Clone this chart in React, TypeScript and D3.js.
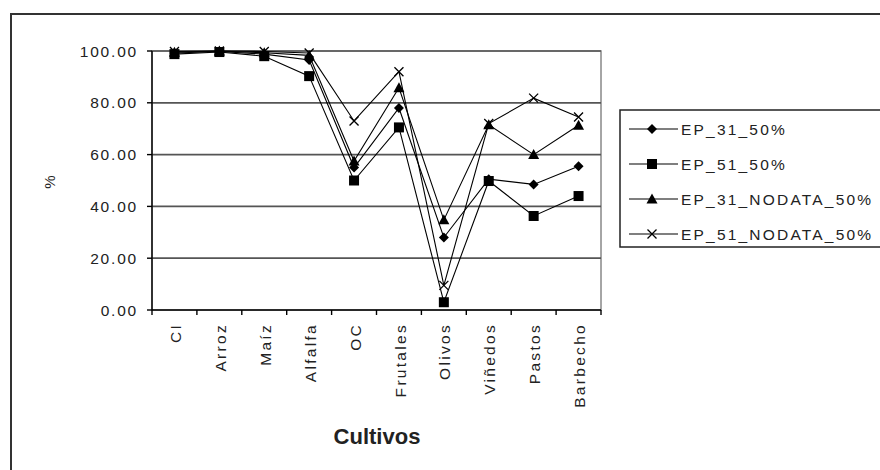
import React from 'react';
import * as d3 from 'd3';

const categories = ['CI', 'Arroz', 'Maíz', 'Alfalfa', 'OC', 'Frutales', 'Olivos', 'Viñedos', 'Pastos', 'Barbecho'];
const ep31 = [99.2, 99.8, 98.8, 96.5, 55, 78, 28, 50.5, 48.5, 55.5];
const ep51 = [98.8, 99.6, 98, 90.3, 50, 70.5, 3, 49.8, 36.3, 44];
const ep31NoData = [99.5, 100, 99.3, 98.3, 57.5, 85.8, 34.8, 71.5, 60, 71.3];
const ep51NoData = [99.8, 100, 99.8, 99.2, 73, 92, 9.5, 72, 81.8, 74.5];
const yTicks = [0, 20, 40, 60, 80, 100];

const series = [
  { name: 'EP_31_50%', values: ep31, marker: 'diamond' },
  { name: 'EP_51_50%', values: ep51, marker: 'square' },
  { name: 'EP_31_NODATA_50%', values: ep31NoData, marker: 'triangle' },
  { name: 'EP_51_NODATA_50%', values: ep51NoData, marker: 'x' },
];

const FONT = 'Arial, "Liberation Sans", sans-serif';

const Marker: React.FC<{ type: string; x: number; y: number }> = ({ type, x, y }) => {
  if (type === 'diamond') {
    const r = 5;
    return <path d={`M${x},${y - r}L${x + r},${y}L${x},${y + r}L${x - r},${y}Z`} fill="#000" />;
  }
  if (type === 'square') {
    const r = 5;
    return <rect x={x - r} y={y - r} width={r * 2} height={r * 2} fill="#000" />;
  }
  if (type === 'triangle') {
    const r = 5.5;
    return <path d={`M${x},${y - r}L${x + r},${y + r * 0.8}L${x - r},${y + r * 0.8}Z`} fill="#000" />;
  }
  const r = 4.5;
  return <path d={`M${x - r},${y - r}L${x + r},${y + r}M${x + r},${y - r}L${x - r},${y + r}`} stroke="#000" strokeWidth={1.3} />;
};

const App: React.FC = () => {
  const left = 152;
  const right = 601;
  const top = 51;
  const bottom = 310;

  const x = d3.scaleBand<string>().domain(categories).range([left, right]);
  const y = d3.scaleLinear().domain([0, 100]).range([bottom, top]);
  const cx = (c: string) => (x(c) ?? 0) + x.bandwidth() / 2;

  const line = d3
    .line<number>()
    .x((_d, i) => cx(categories[i]))
    .y(d => y(d));

  const boundaries = categories.map(c => x(c) ?? 0).concat([right]);

  return (
    <svg width={880} height={470} style={{ position: 'absolute', left: 0, top: 0, background: '#fff' }} fontFamily={FONT}>
      <rect x={0} y={0} width={880} height={470} fill="#fff" />
      <rect x={11} y={14} width={900} height={500} fill="none" stroke="#333" strokeWidth={2} />

      {/* plot frame + grid */}
      <rect x={left} y={top} width={right - left} height={bottom - top} fill="#fff" stroke="#888" strokeWidth={1.5} />
      {yTicks.filter(t => t > 0).map(t => (
        <line key={t} x1={left} x2={right} y1={y(t)} y2={y(t)} stroke="#555" strokeWidth={1.7} />
      ))}

      {/* axes */}
      <line x1={left} x2={left} y1={top} y2={bottom} stroke="#000" strokeWidth={1.4} />
      <line x1={left} x2={right} y1={bottom} y2={bottom} stroke="#000" strokeWidth={1.4} />
      {yTicks.map(t => (
        <g key={t}>
          <line x1={left - 5} x2={left} y1={y(t)} y2={y(t)} stroke="#000" strokeWidth={1.4} />
          <text x={left - 14} y={y(t)} dy="0.36em" textAnchor="end" fontSize={15.5} letterSpacing={1.8} fill="#222">
            {t.toFixed(2)}
          </text>
        </g>
      ))}
      {boundaries.map((b, i) => (
        <line key={i} x1={b} x2={b} y1={bottom} y2={bottom + 5} stroke="#000" strokeWidth={1.4} />
      ))}
      {categories.map(c => (
        <text
          key={c}
          transform={`translate(${cx(c) + 1},${bottom + 13}) rotate(-90)`}
          dy="0.36em"
          textAnchor="end"
          fontSize={15.5}
          letterSpacing={2.3}
          fill="#222"
        >
          {c}
        </text>
      ))}

      <text transform={`translate(50,182) rotate(-90)`} textAnchor="middle" dy="0.36em" fontSize={15} fill="#222">%</text>
      <text x={377} y={436} textAnchor="middle" dy="0.36em" fontSize={22} fontWeight="bold" fill="#222">Cultivos</text>

      {/* series */}
      {series.map(s => (
        <g key={s.name}>
          <path d={line(s.values) ?? ''} fill="none" stroke="#000" strokeWidth={1.1} />
          {s.values.map((v, i) => (
            <Marker key={i} type={s.marker} x={cx(categories[i])} y={y(v)} />
          ))}
        </g>
      ))}

      {/* legend */}
      <rect x={620} y={110} width={300} height={137} fill="#fff" stroke="#222" strokeWidth={1.5} />
      {series.map((s, i) => {
        const ly = 129 + i * 35;
        return (
          <g key={s.name}>
            <line x1={629} x2={678} y1={ly} y2={ly} stroke="#000" strokeWidth={1.2} />
            <Marker type={s.marker} x={652} y={ly} />
            <text x={681} y={ly} dy="0.36em" fontSize={15.5} letterSpacing={2.2} fill="#222">{s.name}</text>
          </g>
        );
      })}
    </svg>
  );
};

export default App;
